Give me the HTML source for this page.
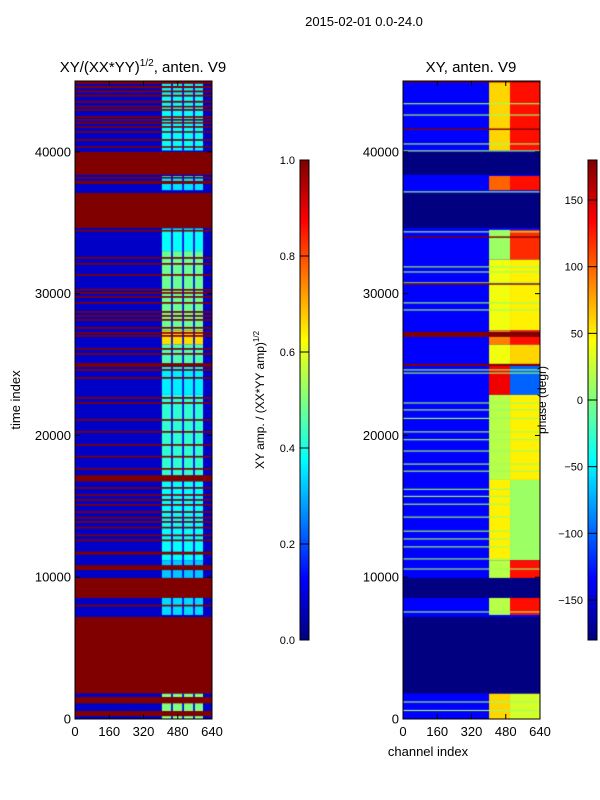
<!DOCTYPE html>
<html><head><meta charset="utf-8"><style>
body{margin:0;background:#fff;width:600px;height:800px;position:relative;overflow:hidden;font-family:"Liberation Sans","DejaVu Sans",sans-serif}
canvas{position:absolute}
svg{position:absolute;left:0;top:0}
</style></head><body>
<canvas id="hl" width="137" height="638" style="left:75px;top:81px"></canvas>
<canvas id="hr" width="137" height="638" style="left:403px;top:81px"></canvas>
<canvas id="c1" width="9" height="480" style="left:300px;top:160px"></canvas>
<canvas id="c2" width="9" height="480" style="left:588px;top:160px"></canvas>
<svg id="ov" width="600" height="800"></svg>
<script>
const yTicks=[0,10000,20000,30000,40000];
const xTicks=[0,160,320,480,640];
const cb1Ticks=[0.0,0.2,0.4,0.6,0.8,1.0];
const cb2Ticks=[-150,-100,-50,0,50,100,150];
const leftRed=[[44800,45000],[44500,44650],[44200,44330],[43900,44030],[43470,43600],[43130,43250],[42900,43020],[42400,42520],[42200,42320],[41990,42100],[41700,41820],[41350,41460],[40780,40900],[40290,40400],[38380,40000],[38120,38230],[37740,37950],[34640,37100],[34380,34500],[32460,32580],[32040,32160],[31260,31380],[30210,30330],[29990,30110],[29710,29830],[29290,29410],[28650,28770],[28370,28490],[28090,28210],[27530,27650],[27170,27290],[26960,27080],[26040,26160],[25690,25810],[24830,25100],[24560,24680],[24000,24120],[22590,22710],[22230,22350],[21030,21150],[20190,20310],[19270,19390],[18440,18560],[17580,17700],[16750,17200],[16240,16360],[15740,15860],[15390,15510],[15040,15160],[14540,14660],[14140,14260],[13840,13960],[13440,13560],[12890,13010],[12540,12660],[11600,11800],[10500,10850],[8540,9950],[7940,8060],[1800,7200],[1100,1550],[200,560]];
const leftHigh=[[40100,45000,0.38],[37300,38300,0.35],[33000,34600,0.38],[27400,33000,0.48],[26400,27400,0.66],[25000,26400,0.45],[22860,25000,0.36],[16860,22860,0.42],[11200,16860,0.38],[10000,11200,0.32],[7340,10000,0.34],[0,1800,0.5]];
const rightNavy=[[38380,40000],[34640,37100],[1800,7200],[8540,9950]];
const rightGreen=[43400,42600,40560,40070,37180,34360,31890,31530,30760,29350,28850,24620,24400,22290,21800,21200,20250,19700,18900,17980,17480,16200,15700,15150,14240,13250,12700,12140,11290,10580,7550,1200,600];
const rightRedLines=[44950,41600,33990,30680,[26950,27300],[24900,25050]];
const rightHigh=[[40100,45000,60,130],[37300,38300,100,130],[32400,34500,10,120],[27400,32400,40,50],[26400,27400,90,130],[25000,26400,40,60],[22860,25000,140,-100],[16860,22860,20,50],[11200,16860,50,10],[7340,11200,20,130],[0,1800,60,30]];
const gapCh=[453,505,556];

function jet(v){const c=x=>Math.max(0,Math.min(1,x));
return `rgb(${Math.round(255*c(1.5-Math.abs(4*v-3)))},${Math.round(255*c(1.5-Math.abs(4*v-2)))},${Math.round(255*c(1.5-Math.abs(4*v-1)))})`;}
const W=137,H=638,TMAX=45000,CMAX=640;
const ty=t=>H-t/TMAX*H, cx=c=>c/CMAX*W;
function band(ctx,t0,t1,c0,c1,col){ctx.fillStyle=col;const y0=ty(t1),y1=ty(t0);ctx.fillRect(cx(c0),y0,cx(c1)-cx(c0),Math.max(1,y1-y0));}
const ph=p=>jet((p+180)/360);
let L=document.getElementById('hl').getContext('2d');
band(L,0,TMAX,0,CMAX,jet(0.07));
leftHigh.forEach(b=>{band(L,b[0],b[1],406,598,jet(b[2]));gapCh.forEach(g=>band(L,b[0],b[1],g-4,g+4,jet(0.1)));});
leftRed.forEach(b=>band(L,b[0],b[1],0,CMAX,jet(1)));
let R=document.getElementById('hr').getContext('2d');
band(R,0,TMAX,0,CMAX,ph(-135));
rightHigh.forEach(b=>{band(R,b[0],b[1],402,500,ph(b[2]));band(R,b[0],b[1],500,CMAX,ph(b[3]));});
rightNavy.forEach(b=>band(R,b[0],b[1],0,CMAX,ph(-180)));
rightGreen.forEach(t=>band(R,t-40,t+40,0,CMAX,ph(10)));
rightRedLines.forEach(t=>{if(Array.isArray(t))band(R,t[0],t[1],0,CMAX,ph(180));else band(R,t-50,t+50,0,CMAX,ph(180));});
['c1','c2'].forEach(id=>{const c=document.getElementById(id).getContext('2d');for(let i=0;i<480;i++){c.fillStyle=jet(1-i/479);c.fillRect(0,i,9,1);}});
const ov=document.getElementById('ov');const NS='http://www.w3.org/2000/svg';
function mk(tag,attrs,txt,name){const e=document.createElementNS(NS,tag);for(const k in attrs)e.setAttribute(k,attrs[k]);if(txt!==undefined)e.textContent=txt;


ov.appendChild(e);return e;}
function axes(x0,name){
 mk('rect',{x:x0,y:81,width:W,height:H,fill:'none',stroke:'#000','stroke-width':1},undefined,name+'-frame');
 yTicks.forEach(t=>{const y=81+ty(t);
  mk('line',{x1:x0,x2:x0+5,y1:y,y2:y,stroke:'#000'},undefined,name+'-ytick');
  mk('line',{x1:x0+W-5,x2:x0+W,y1:y,y2:y,stroke:'#000'},undefined,name+'-ytick');
  mk('text',{x:x0-4,y:y+4.5,'text-anchor':'end','font-size':13},String(t),name+'-ytick-label');});
 xTicks.forEach(c=>{const x=x0+cx(c);
  mk('line',{x1:x,x2:x,y1:719,y2:714,stroke:'#000'},undefined,name+'-xtick');
  mk('line',{x1:x,x2:x,y1:81,y2:86,stroke:'#000'},undefined,name+'-xtick');
  mk('text',{x:x,y:736,'text-anchor':'middle','font-size':13},String(c),name+'-xtick-label');});
}
axes(75,'left-axes');axes(403,'right-axes');
mk('text',{x:364,y:26,'text-anchor':'middle','font-size':13},'2015-02-01 0.0-24.0','figure-title');
const t1=mk('text',{x:143,y:72,'text-anchor':'middle','font-size':15},'XY/(XX*YY)','left-title');
const sup=document.createElementNS(NS,'tspan');sup.setAttribute('font-size',10);sup.setAttribute('dy',-6);sup.textContent='1/2';t1.appendChild(sup);
const tr=document.createElementNS(NS,'tspan');tr.setAttribute('dy',6);tr.textContent=', anten. V9';t1.appendChild(tr);
mk('text',{x:471,y:72,'text-anchor':'middle','font-size':15},'XY, anten. V9','right-title');
mk('text',{x:20,y:400,'text-anchor':'middle','font-size':13,transform:'rotate(-90 20 400)'},'time index','y-axis-title');
mk('text',{x:428,y:756,'text-anchor':'middle','font-size':13},'channel index','x-axis-title');
mk('rect',{x:300,y:160,width:9,height:480,fill:'none',stroke:'#000'},undefined,'colorbar1-frame');
mk('rect',{x:588,y:160,width:9,height:480,fill:'none',stroke:'#000'},undefined,'colorbar2-frame');
cb1Ticks.forEach(v=>{const y=640-v*480;
 mk('line',{x1:300,x2:309,y1:y,y2:y,stroke:'#000'},undefined,'colorbar1-tick');
 mk('text',{x:295,y:y+4,'text-anchor':'end','font-size':11},v.toFixed(1),'colorbar1-tick-label');});
cb2Ticks.forEach(v=>{const y=640-(v+180)/360*480;
 mk('line',{x1:588,x2:597,y1:y,y2:y,stroke:'#000'},undefined,'colorbar2-tick');
 mk('text',{x:583,y:y+4,'text-anchor':'end','font-size':11},v<0?'\u2212'+(-v):String(v),'colorbar2-tick-label');});
const cl=mk('text',{x:264,y:400,'text-anchor':'middle','font-size':12,transform:'rotate(-90 264 400)'},'XY amp. / (XX*YY amp)','colorbar1-label');
const s2=document.createElementNS(NS,'tspan');s2.setAttribute('font-size',8);s2.setAttribute('dy',-5);s2.textContent='1/2';cl.appendChild(s2);
mk('text',{x:546,y:400,'text-anchor':'middle','font-size':12,transform:'rotate(-90 546 400)'},'phase (degr)','colorbar2-label');
</script>
</body></html>
